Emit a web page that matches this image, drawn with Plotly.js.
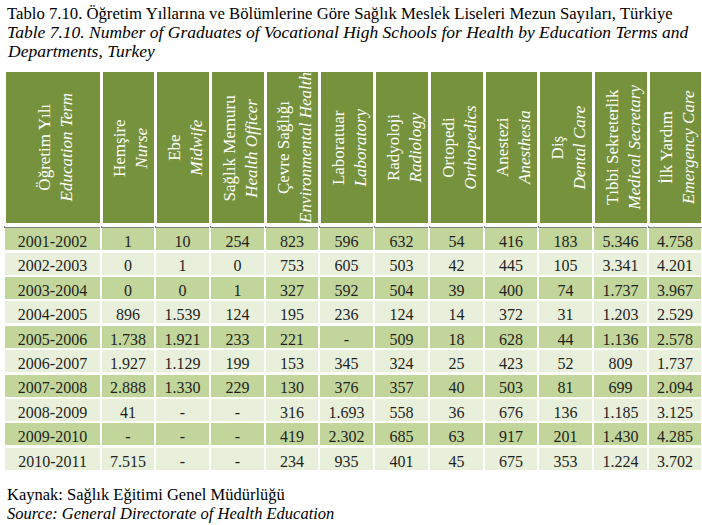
<!DOCTYPE html>
<html>
<head>
<meta charset="utf-8">
<script src="https://cdn.plot.ly/plotly-3.0.1.min.js"></script>
<style>body{margin:0;background:#fff}</style>
</head>
<body>
<div id="chart" style="width:702px;height:525px"></div>
<script>
// education terms (rows)
var terms = ['2001-2002', '2002-2003', '2003-2004', '2004-2005', '2005-2006',
    '2006-2007', '2007-2008', '2008-2009', '2009-2010', '2010-2011'];

// graduates per department, null = '-'
var hemsire = [1, 0, 0, 896, 1738, 1927, 2888, 41, null, 7515];
var ebe = [10, 1, 0, 1539, 1921, 1129, 1330, null, null, null];
var saglikMemuru = [254, 0, 1, 124, 233, 199, 229, null, null, null];
var cevreSagligi = [823, 753, 327, 195, 221, 153, 130, 316, 419, 234];
var laboratuar = [596, 605, 592, 236, null, 345, 376, 1693, 2302, 935];
var radyoloji = [632, 503, 504, 124, 509, 324, 357, 558, 685, 401];
var ortopedi = [54, 42, 39, 14, 18, 25, 40, 36, 63, 45];
var anestezi = [416, 445, 400, 372, 628, 423, 503, 676, 917, 675];
var dis = [183, 105, 74, 31, 44, 52, 81, 136, 201, 353];
var tibbiSekreterlik = [5346, 3341, 1737, 1203, 1136, 809, 699, 1185, 1430, 1224];
var ilkYardim = [4758, 4201, 3967, 2529, 2578, 1737, 2094, 3125, 4285, 3702];

// column headings: Turkish / English
var headTr = ['Öğretim Yılı', 'Hemşire', 'Ebe', 'Sağlık Memuru', 'Çevre Sağlığı', 'Laboratuar',
    'Radyoloji', 'Ortopedi', 'Anestezi', 'Diş', 'Tıbbi Sekreterlik', 'İlk Yardım'];
var headEn = ['Education Term', 'Nurse', 'Midwife', 'Health Officer', 'Environmental Health', 'Laboratory',
    'Radiology', 'Orthopedics', 'Anesthesia', 'Dental Care', 'Medical Secretary', 'Emergency Care'];

var H = 525;
var PLOT_W = 698;
var colW = [97, 54, 55, 55, 54, 55, 55, 55, 54, 55, 55, 54];

var dark = '#C2D69B';
var light = '#E8EFDA';
var headGreen = '#76923C';
var serif = "'Liberation Serif', 'Times New Roman', serif";

// turkish thousands separator
function fmt(v) {
    if (v === null) return '-';
    return String(v).replace(/\B(?=(\d{3})+(?!\d))/g, '.');
}

var depts = [hemsire, ebe, saglikMemuru, cevreSagligi, laboratuar, radyoloji,
    ortopedi, anestezi, dis, tibbiSekreterlik, ilkYardim];
var cellVals = [terms];
depts.forEach(function (d) {
    cellVals.push(d.map(fmt));
});

var rowFill = terms.map(function (t, i) {
    return i % 2 === 0 ? dark : light;
});
var fills = cellVals.map(function () { return rowFill; });

function py(px) { return 1 - px / H; }

//body table (no header)
var body = {
    type: 'table',
    domain: {x: [0, 1], y: [py(500), py(227 - 16)]},
    columnwidth: colW,
    header: {values: []},
    cells: {
        values: cellVals,
        height: 24.4,
        align: 'center',
        fill: {color: fills},
        line: {color: 'white', width: 2.5},
        font: {family: serif, size: 16, color: '#1f1f1f'}
    }
};

//green header band
var head = {
    type: 'table',
    domain: {x: [0, 1], y: [py(300), py(70.5)]},
    columnwidth: colW,
    header: {
        values: colW.map(function () { return ''; }),
        height: 154,
        fill: {color: headGreen},
        line: {color: 'white', width: 3}
    },
    cells: {values: []}
};

var annotations = [];
var cum = 0;
colW.forEach(function (w, i) {
    annotations.push({
        xref: 'paper', yref: 'paper',
        x: (cum + w / 2 + 2) / PLOT_W, y: py(148),
        xanchor: 'center', yanchor: 'middle',
        textangle: -90,
        showarrow: false,
        text: headTr[i] + '<br><i>' + headEn[i] + '</i>',
        font: {family: serif, size: 17, color: 'white'}
    });
    cum += w;
});

function line(txt, yPx, italic, size) {
    annotations.push({
        xref: 'paper', yref: 'paper',
        x: 1 / PLOT_W, y: py(yPx),
        xanchor: 'left', yanchor: 'middle',
        showarrow: false,
        text: italic ? '<i>' + txt + '</i>' : txt,
        font: {family: serif, size: size, color: 'black'}
    });
}

line('Tablo 7.10. Öğretim Yıllarına ve Bölümlerine Göre Sağlık Meslek Liseleri Mezun Sayıları, Türkiye', 14, false, 16.7);
line('Table 7.10. Number of Graduates of Vocational High Schools for Health by Education Terms and', 32, true, 17.5);
line('Departments, Turkey', 51, true, 17.5);
line('Kaynak: Sağlık Eğitimi Genel Müdürlüğü', 494, false, 16.5);
line('Source: General Directorate of Health Education', 513, true, 16.5);

// small stray mark over "Meslek" in the scan
annotations.push({
    xref: 'paper', yref: 'paper', x: (442 - 4) / PLOT_W, y: 1,
    xanchor: 'center', yanchor: 'top', showarrow: false,
    text: '- -', font: {family: serif, size: 7, color: 'black'}
});

var layout = {
    width: 702,
    height: 525,
    margin: {l: 4, r: 0, t: 0, b: 0},
    paper_bgcolor: 'white',
    showlegend: false,
    annotations: annotations
};

Plotly.newPlot('chart', [body, head], layout, {displayModeBar: false});
</script>
</body>
</html>
